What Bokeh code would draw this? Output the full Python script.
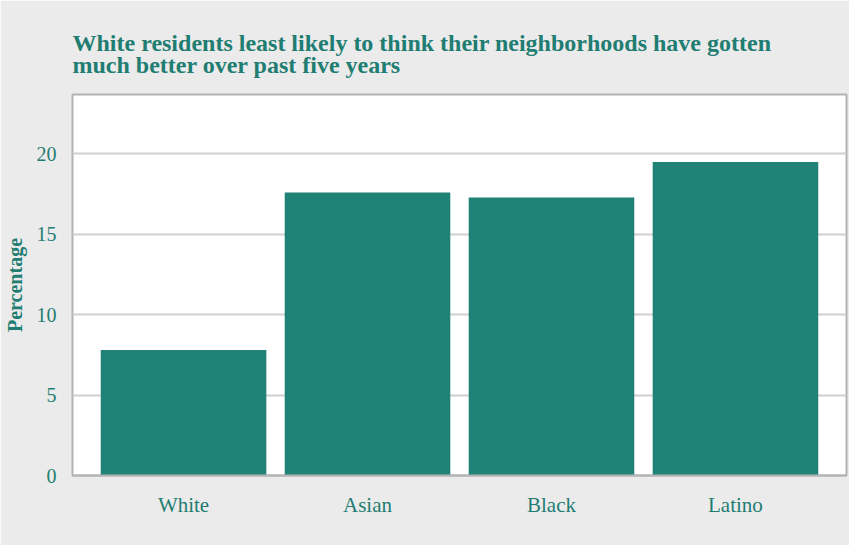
from bokeh.plotting import figure
from bokeh.models import FactorRange, Range1d
from bokeh.embed import file_html
from bokeh.resources import INLINE

groups = ["White", "Asian", "Black", "Latino"]
pct = [7.8, 17.6, 17.3, 19.5]
y_ticks = [0, 5, 10, 15, 20]

TEAL = "#208277"
TXT = "#1f7d72"
BG = "#ebebeb"
FONT = "Liberation Serif"

p = figure(x_range=FactorRange(*groups, range_padding=0.1035, range_padding_units="absolute"),
           y_range=Range1d(0, 23.7),
           width=849, height=545, output_backend="svg", toolbar_location=None,
           min_border_left=72, min_border_right=3, min_border_top=94, min_border_bottom=70,
           background_fill_color="white", border_fill_color=BG)

p.vbar(x=groups, top=pct, width=0.9, color=TEAL, line_color=None)

p.title.text = "White residents least likely to think their neighborhoods have gotten\nmuch better over past five years"
p.title.text_font = FONT
p.title.text_font_style = "bold"
p.title.text_font_size = "24px"
p.title.text_color = TXT
p.title.offset = 0
p.title.standoff = 33
p.title.text_line_height = 0.85

p.outline_line_color = "#b3b3b3"
p.outline_line_width = 2

p.xgrid.grid_line_color = None
p.ygrid.grid_line_color = "#d0d0d0"
p.ygrid.grid_line_width = 2
p.yaxis.ticker = y_ticks

p.yaxis.axis_line_color = None
p.yaxis.major_tick_line_color = None
p.yaxis.minor_tick_line_color = None
p.yaxis.major_label_text_font = FONT
p.yaxis.major_label_text_font_size = "20px"
p.yaxis.major_label_text_color = TXT
p.yaxis.major_label_standoff = 10
p.yaxis.axis_label = "Percentage"
p.yaxis.axis_label_text_font = FONT
p.yaxis.axis_label_text_font_style = "bold"
p.yaxis.axis_label_text_font_size = "20px"
p.yaxis.axis_label_text_color = TXT
p.yaxis.axis_label_standoff = 8

p.xaxis.axis_line_color = "#b3b3b3"
p.xaxis.axis_line_width = 2
p.xaxis.major_tick_line_color = None
p.xaxis.minor_tick_line_color = None
p.xaxis.major_label_text_font = FONT
p.xaxis.major_label_text_font_size = "21px"
p.xaxis.major_label_text_color = TXT
p.xaxis.major_label_standoff = 11

open("out.html", "w").write(file_html(p, INLINE))
